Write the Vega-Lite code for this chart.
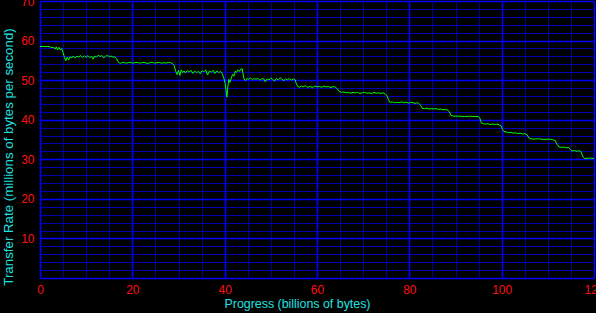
{
"$schema": "https://vega.github.io/schema/vega-lite/v6.json",
"width": 554, "height": 277,
"autosize": {"type": "none"},
"padding": {"left": 40, "top": 1, "right": 2, "bottom": 35},
"background": "#000000",
"config": {"view": {"stroke": null, "fill": "#000000"}},
"data": {"values": [
{"x":0,"y":58.5},{"x":1,"y":58.5},{"x":2,"y":58.5},{"x":2.3,"y":58.3},{"x":3.0,"y":58.2},{"x":3.3,"y":57.9},{"x":3.5,"y":58.4},{"x":3.8,"y":57.7},{"x":4.1,"y":58.3},{"x":4.4,"y":57.6},{"x":4.7,"y":58.0},{"x":5.0,"y":57.0},{"x":5.3,"y":55.7},{"x":5.6,"y":54.9},{"x":5.9,"y":55.8},{"x":6.2,"y":55.1},{"x":6.5,"y":55.9},{"x":6.9,"y":55.6},{"x":7.2,"y":56.1},{"x":7.6,"y":55.6},{"x":8.0,"y":56.0},{"x":8.4,"y":55.9},{"x":8.8,"y":56.2},{"x":9.2,"y":55.7},{"x":9.6,"y":56.1},{"x":10.0,"y":55.8},{"x":10.4,"y":56.2},{"x":10.8,"y":55.7},{"x":11.2,"y":56.0},{"x":11.5,"y":55.3},{"x":11.8,"y":56.1},{"x":12.2,"y":55.8},{"x":12.6,"y":56.3},{"x":13.0,"y":56.0},{"x":13.4,"y":56.2},{"x":13.8,"y":55.6},{"x":14.2,"y":56.0},{"x":14.6,"y":56.3},{"x":15.0,"y":55.9},{"x":15.4,"y":56.1},{"x":15.8,"y":55.8},{"x":16.2,"y":55.9},{"x":16.6,"y":55.4},{"x":17.0,"y":54.5},{"x":17.4,"y":54.2},{"x":17.8,"y":54.5},{"x":18.3,"y":54.4},{"x":18.8,"y":54.3},{"x":19.3,"y":54.5},{"x":19.8,"y":54.4},{"x":20.3,"y":54.3},{"x":20.8,"y":54.5},{"x":21.3,"y":54.4},{"x":21.8,"y":54.3},{"x":22.3,"y":54.5},{"x":22.8,"y":54.4},{"x":23.3,"y":54.2},{"x":23.8,"y":54.4},{"x":24.3,"y":54.5},{"x":24.8,"y":54.3},{"x":25.3,"y":54.4},{"x":25.8,"y":54.5},{"x":26.3,"y":54.3},{"x":26.8,"y":54.4},{"x":27.3,"y":54.3},{"x":27.8,"y":54.5},{"x":28.3,"y":54.4},{"x":28.7,"y":54.2},{"x":29.1,"y":53.6},{"x":29.4,"y":52.2},{"x":29.7,"y":51.4},{"x":30.0,"y":52.5},{"x":30.3,"y":51.2},{"x":30.6,"y":52.6},{"x":30.9,"y":51.9},{"x":31.2,"y":52.3},{"x":31.5,"y":51.8},{"x":31.9,"y":52.4},{"x":32.3,"y":52.0},{"x":32.7,"y":52.5},{"x":33.1,"y":51.7},{"x":33.5,"y":52.3},{"x":33.9,"y":51.9},{"x":34.3,"y":52.2},{"x":34.7,"y":51.6},{"x":35.1,"y":52.4},{"x":35.5,"y":52.1},{"x":35.9,"y":52.6},{"x":36.3,"y":51.3},{"x":36.7,"y":52.3},{"x":37.1,"y":52.0},{"x":37.5,"y":52.5},{"x":37.9,"y":51.7},{"x":38.3,"y":52.3},{"x":38.7,"y":51.9},{"x":39.1,"y":52.2},{"x":39.5,"y":51.6},{"x":39.8,"y":50.6},{"x":40.1,"y":49.2},{"x":40.3,"y":47.3},{"x":40.5,"y":45.7},{"x":40.7,"y":48.5},{"x":40.9,"y":50.2},{"x":41.1,"y":49.4},{"x":41.4,"y":50.3},{"x":41.7,"y":51.5},{"x":42.0,"y":51.0},{"x":42.3,"y":52.3},{"x":42.6,"y":52.0},{"x":42.9,"y":52.6},{"x":43.2,"y":52.2},{"x":43.5,"y":52.8},{"x":43.8,"y":52.9},{"x":44.0,"y":51.5},{"x":44.2,"y":50.3},{"x":44.5,"y":49.9},{"x":44.8,"y":50.4},{"x":45.2,"y":50.2},{"x":45.6,"y":50.6},{"x":46.0,"y":50.1},{"x":46.4,"y":50.4},{"x":46.8,"y":50.2},{"x":47.2,"y":50.5},{"x":47.6,"y":50.0},{"x":48.0,"y":50.3},{"x":48.4,"y":50.4},{"x":48.8,"y":49.6},{"x":49.2,"y":50.3},{"x":49.6,"y":50.1},{"x":50.0,"y":50.5},{"x":50.4,"y":50.2},{"x":50.8,"y":49.8},{"x":51.2,"y":50.4},{"x":51.6,"y":50.1},{"x":52.0,"y":50.6},{"x":52.4,"y":50.2},{"x":52.8,"y":49.9},{"x":53.2,"y":50.3},{"x":53.6,"y":50.1},{"x":54.0,"y":50.4},{"x":54.4,"y":50.0},{"x":54.8,"y":50.3},{"x":55.2,"y":50.2},{"x":55.5,"y":49.2},{"x":55.8,"y":48.4},{"x":56.2,"y":48.2},{"x":56.6,"y":48.5},{"x":57.0,"y":48.3},{"x":57.5,"y":48.6},{"x":58.0,"y":48.2},{"x":58.5,"y":48.4},{"x":59.0,"y":48.1},{"x":59.5,"y":48.5},{"x":60.0,"y":48.3},{"x":60.5,"y":48.4},{"x":61.0,"y":48.2},{"x":61.5,"y":48.5},{"x":62.0,"y":48.3},{"x":62.5,"y":48.4},{"x":63.0,"y":48.1},{"x":63.5,"y":48.4},{"x":64.0,"y":48.2},{"x":64.4,"y":47.8},{"x":64.8,"y":47.2},{"x":65.3,"y":46.9},{"x":65.8,"y":47.0},{"x":66.3,"y":46.8},{"x":66.8,"y":46.9},{"x":67.3,"y":46.7},{"x":67.8,"y":46.9},{"x":68.3,"y":46.8},{"x":68.8,"y":46.9},{"x":69.3,"y":46.6},{"x":69.8,"y":46.8},{"x":70.3,"y":46.9},{"x":70.8,"y":46.7},{"x":71.3,"y":46.8},{"x":71.8,"y":46.6},{"x":72.3,"y":46.9},{"x":72.8,"y":46.7},{"x":73.3,"y":46.8},{"x":73.8,"y":46.6},{"x":74.3,"y":46.8},{"x":74.8,"y":46.5},{"x":75.2,"y":46.0},{"x":75.5,"y":45.0},{"x":75.8,"y":44.4},{"x":76.3,"y":44.5},{"x":76.8,"y":44.3},{"x":77.3,"y":44.4},{"x":77.8,"y":44.3},{"x":78.3,"y":44.5},{"x":78.8,"y":44.3},{"x":79.3,"y":44.4},{"x":79.8,"y":44.2},{"x":80.3,"y":44.4},{"x":80.8,"y":44.3},{"x":81.3,"y":44.1},{"x":81.8,"y":44.3},{"x":82.2,"y":44.0},{"x":82.5,"y":43.5},{"x":82.8,"y":42.9},{"x":83.3,"y":42.8},{"x":83.8,"y":42.9},{"x":84.3,"y":42.7},{"x":84.8,"y":42.8},{"x":85.3,"y":42.7},{"x":85.8,"y":42.8},{"x":86.3,"y":42.6},{"x":86.8,"y":42.7},{"x":87.3,"y":42.5},{"x":87.8,"y":42.6},{"x":88.3,"y":42.4},{"x":88.7,"y":42.0},{"x":89.0,"y":41.1},{"x":89.5,"y":40.9},{"x":90.0,"y":40.9},{"x":91.0,"y":40.9},{"x":92.0,"y":40.8},{"x":93.0,"y":40.9},{"x":94.0,"y":40.8},{"x":95.0,"y":40.8},{"x":95.3,"y":40.3},{"x":95.6,"y":39.2},{"x":96.0,"y":39.0},{"x":96.5,"y":38.9},{"x":97.0,"y":39.0},{"x":97.5,"y":38.8},{"x":98.0,"y":38.9},{"x":98.5,"y":38.8},{"x":99.0,"y":38.9},{"x":99.5,"y":38.7},{"x":99.9,"y":38.4},{"x":100.2,"y":37.5},{"x":100.5,"y":37.0},{"x":101.0,"y":36.9},{"x":101.5,"y":36.7},{"x":102.0,"y":36.8},{"x":102.5,"y":36.6},{"x":103.0,"y":36.7},{"x":103.5,"y":36.5},{"x":104.0,"y":36.6},{"x":104.5,"y":36.4},{"x":105.0,"y":36.5},{"x":105.5,"y":36.2},{"x":105.9,"y":35.4},{"x":106.3,"y":35.2},{"x":107.0,"y":35.1},{"x":108.0,"y":35.2},{"x":109.0,"y":35.0},{"x":110.0,"y":35.1},{"x":111.0,"y":35.0},{"x":111.6,"y":34.7},{"x":112.0,"y":33.8},{"x":112.4,"y":33.1},{"x":113.0,"y":33.0},{"x":113.5,"y":33.1},{"x":114.0,"y":32.9},{"x":114.5,"y":33.0},{"x":114.9,"y":32.4},{"x":115.2,"y":32.1},{"x":115.8,"y":32.2},{"x":116.3,"y":32.0},{"x":116.8,"y":32.2},{"x":117.2,"y":31.9},{"x":117.6,"y":30.6},{"x":118.0,"y":30.2},{"x":119.0,"y":30.3},{"x":120.0,"y":30.2}
]},
"mark": {"type": "line", "color": "#00ff00", "strokeWidth": 1, "clip": true},
"encoding": {
  "x": {"field": "x", "type": "quantitative",
    "scale": {"domain": [0, 120], "nice": false, "zero": false},
    "axis": {
      "title": "Progress (billions of bytes)",
      "values": [0,5,10,15,20,25,30,35,40,45,50,55,60,65,70,75,80,85,90,95,100,105,110,115,120],
      "labelExpr": "datum.value % 20 === 0 ? datum.label : ''",
      "ticks": false, "domain": false, "grid": true,
      "gridColor": {"condition": {"test": "datum.value % 20 === 0", "value": "#0000ff"}, "value": "#00009c"},
      "gridWidth": {"condition": {"test": "datum.value % 20 === 0", "value": 1.6}, "value": 1},
      "gridOpacity": 1,
      "labelFlush": false, "labelOverlap": false, "labelBound": false,
      "labelColor": "#ff1010", "labelFont": "Liberation Sans", "labelFontSize": 12, "labelPadding": 6,
      "titleColor": "#20e0e0", "titleFont": "Liberation Sans", "titleFontSize": 12.4, "titleFontWeight": "normal", "titlePadding": 2,
      "titleX": 257, "titleAlign": "center"
    }},
  "y": {"field": "y", "type": "quantitative",
    "scale": {"domain": [0, 70], "nice": false, "zero": false},
    "axis": {
      "title": "Transfer Rate (millions of bytes per second)",
      "values": [0,2,4,6,8,10,12,14,16,18,20,22,24,26,28,30,32,34,36,38,40,42,44,46,48,50,52,54,56,58,60,62,64,66,68,70],
      "labelExpr": "datum.value % 10 === 0 && datum.value > 0 ? datum.label : ''",
      "ticks": false, "domain": false, "grid": true,
      "gridColor": {"condition": {"test": "datum.value % 10 === 0", "value": "#0000ff"}, "value": "#0000b0"},
      "gridWidth": {"condition": {"test": "datum.value % 10 === 0", "value": 1.6}, "value": 1},
      "gridOpacity": 1,
      "labelFlush": false, "labelOverlap": false, "labelBound": false,
      "labelColor": "#ff1010", "labelFont": "Liberation Sans", "labelFontSize": 12, "labelPadding": 6,
      "titleColor": "#20e0e0", "titleFont": "Liberation Sans", "titleFontSize": 13.3, "titleFontWeight": "normal",
      "titleX": -31.5, "titleY": 155.5, "titleAngle": -90, "titleAlign": "center", "titleBaseline": "middle"
    }}
}
}
